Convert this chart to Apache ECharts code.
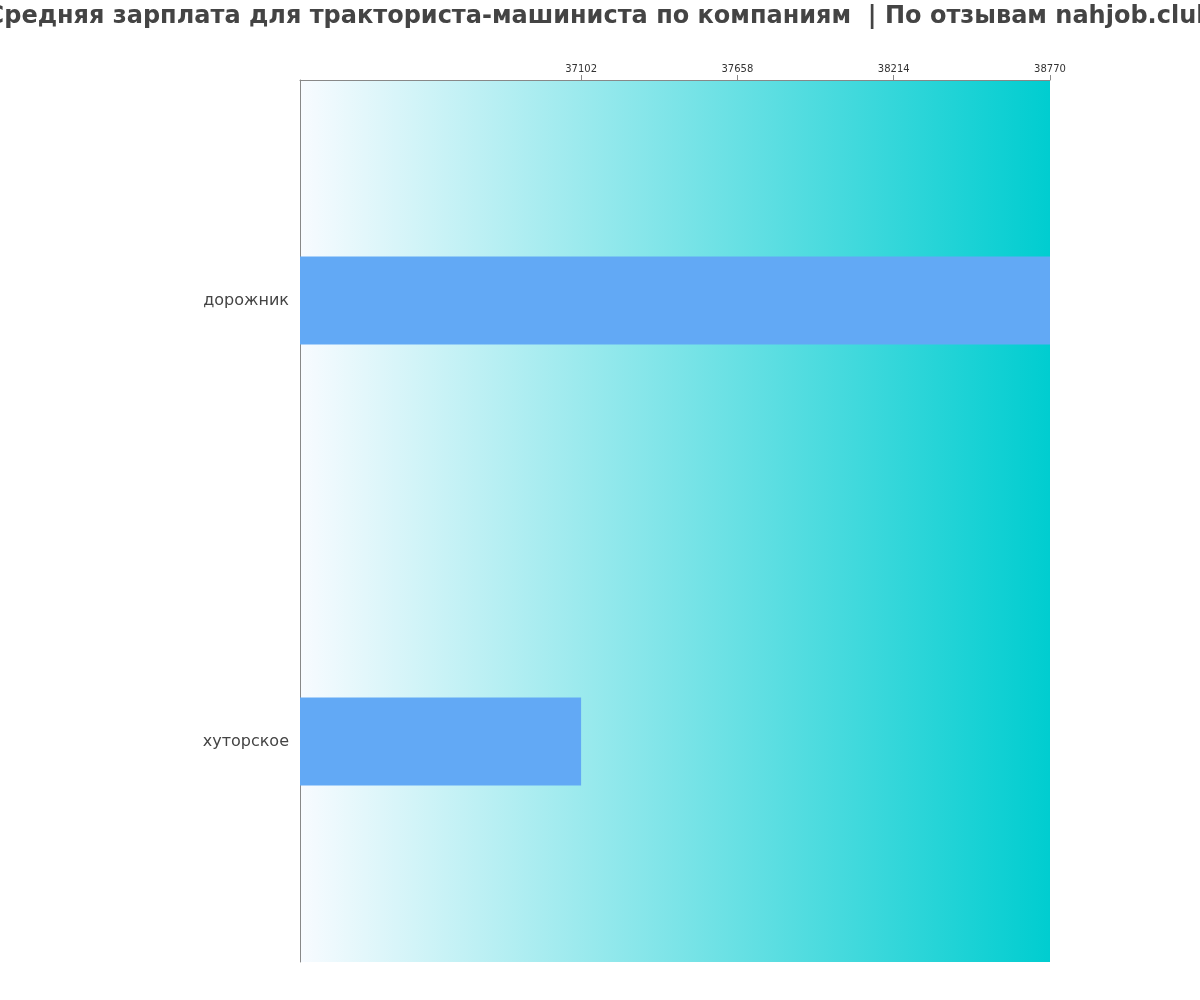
<!DOCTYPE html>
<html>
<head>
<meta charset="utf-8">
<script src="https://cdn.jsdelivr.net/npm/echarts@6/dist/echarts.min.js"></script>
<style>
  html, body { margin: 0; padding: 0; background: #fff; }
  #chart { width: 1200px; height: 1000px; }
</style>
</head>
<body>
<div id="chart"></div>
<script>
// данные
const titleText = 'Средняя зарплата для тракториста-машиниста по компаниям  | По отзывам nahjob.club';
const categories = ['хуторское', 'дорожник'];
const salaries = [37102, 38770];
const tickValues = [37102, 37658, 38214, 38770];
const axisMin = 36102;
const axisMax = 38770;

const chart = echarts.init(document.getElementById('chart'));

const option = {
  title: {
    text: titleText,
    left: 'center',
    top: 0,
    textStyle: {
      fontFamily: 'DejaVu Sans',
      fontSize: 24,
      fontWeight: 'bold',
      color: '#444'
    }
  },
  grid: {
    left: 300,
    right: 150,
    top: 80,
    bottom: 38,
    show: true,
    borderWidth: 0,
    backgroundColor: new echarts.graphic.LinearGradient(0, 0, 1, 0, [
      { offset: 0, color: '#f8fbff' },
      { offset: 1, color: '#00cdd0' }
    ])
  },
  xAxis: {
    type: 'value',
    position: 'top',
    min: axisMin,
    max: axisMax,
    axisLine: { show: true, lineStyle: { color: '#888' } },
    axisTick: { show: true, customValues: tickValues, length: 5, lineStyle: { color: '#888' } },
    axisLabel: {
      customValues: tickValues,
      formatter: (v) => String(v),
      fontFamily: 'DejaVu Sans',
      fontSize: 10,
      color: '#333',
      margin: 6
    },
    splitLine: { show: false }
  },
  yAxis: {
    type: 'category',
    data: categories,
    axisLine: { show: true, lineStyle: { color: '#888' } },
    axisTick: { show: false },
    axisLabel: {
      fontFamily: 'DejaVu Sans',
      fontSize: 16,
      color: '#444',
      margin: 11,
      padding: [0, 0, 5, 0]
    }
  },
  series: [
    {
      type: 'bar',
      data: salaries,
      barWidth: '20%',
      itemStyle: { color: '#62a9f5' }
    }
  ]
};

chart.setOption(option);
</script>
</body>
</html>
